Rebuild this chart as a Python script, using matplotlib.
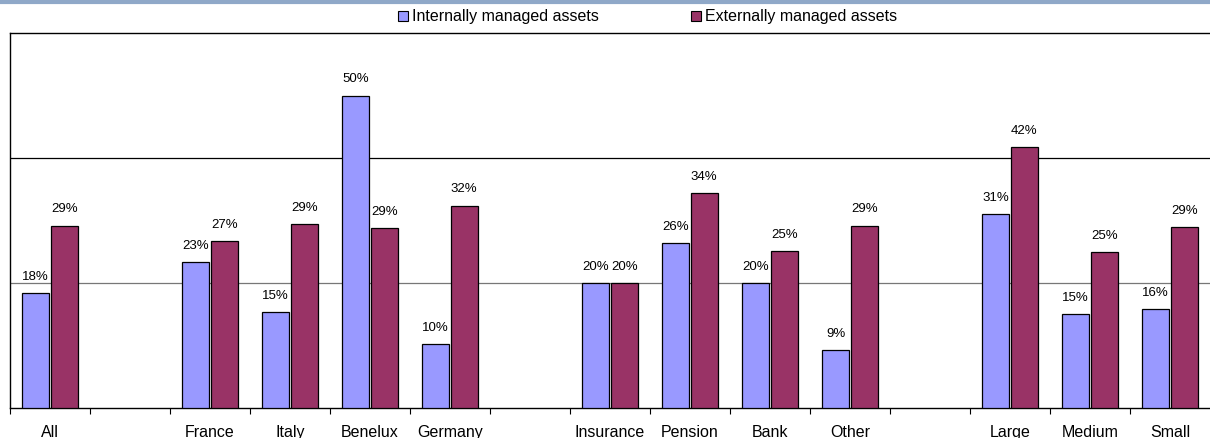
import numpy as np
import matplotlib.pyplot as plt
from matplotlib.lines import Line2D

plt.rcParams["font.family"] = ["Liberation Sans", "DejaVu Sans"]

categories = ["All", "", "France", "Italy", "Benelux", "Germany", "",
              "Insurance", "Pension", "Bank", "Other", "",
              "Large", "Medium", "Small"]
internal = [18.4, None, 23.4, 15.4, 50.0, 10.2, None,
            20.0, 26.4, 20.0, 9.3, None,
            31.0, 15.0, 15.8]
external = [29.2, None, 26.7, 29.4, 28.8, 32.4, None,
            20.0, 34.4, 25.1, 29.2, None,
            41.8, 25.0, 29.0]
series_names = ["Internally managed assets", "Externally managed assets"]

blue = "#9999FF"
maroon = "#993366"

fig = plt.figure(figsize=(12.1, 4.38), dpi=100)
ax = fig.add_axes([10 / 1210, 1 - 408 / 438, 1200 / 1210, (408 - 33) / 438])

x = np.arange(len(categories))
w = 0.335
off = 0.178

for i, (a, b) in enumerate(zip(internal, external)):
    if a is None:
        continue
    ax.bar(x[i] - off, a, w, color=blue, edgecolor="black", linewidth=0.9, zorder=3)
    ax.bar(x[i] + off, b, w, color=maroon, edgecolor="black", linewidth=0.9, zorder=3)
    ax.text(x[i] - off, a + 1.6, f"{a:.0f}%", ha="center", va="bottom", fontsize=9.5)
    ax.text(x[i] + off, b + 1.6, f"{b:.0f}%", ha="center", va="bottom", fontsize=9.5)

ax.set_xlim(-0.5, len(categories) - 0.5)
ax.set_ylim(0, 60)
ax.axhline(20, color="#777777", lw=0.9, zorder=1)
ax.axhline(40, color="black", lw=0.9, zorder=1)

ax.set_yticks([])
ax.set_xticks(x - 0.5, minor=False)
ax.set_xticklabels([])
ax.set_xticks(x, minor=True)
ax.set_xticklabels(categories, minor=True, fontsize=11.5)
ax.tick_params(axis="x", which="major", length=4, width=0.8, direction="out")
ax.tick_params(axis="x", which="minor", length=0, pad=12.5)

for s in ["left", "top", "bottom"]:
    ax.spines[s].set_linewidth(1.0)
ax.spines["right"].set_visible(False)

handles = [plt.Rectangle((0, 0), 1, 1, facecolor=blue, edgecolor="black", lw=0.8),
           plt.Rectangle((0, 0), 1, 1, facecolor=maroon, edgecolor="black", lw=0.8)]
fig.legend(handles, series_names, loc="center", bbox_to_anchor=(0.535, 1 - 17 / 438),
           ncol=2, frameon=False, fontsize=11.5, handlelength=0.65, handleheight=0.65,
           handletextpad=0.2, columnspacing=5.8, borderpad=0)

fig.add_artist(Line2D([0, 1], [1 - 1.5 / 438, 1 - 1.5 / 438], color="#8FA8C8", lw=3))

fig.savefig("out.png", dpi=100)
